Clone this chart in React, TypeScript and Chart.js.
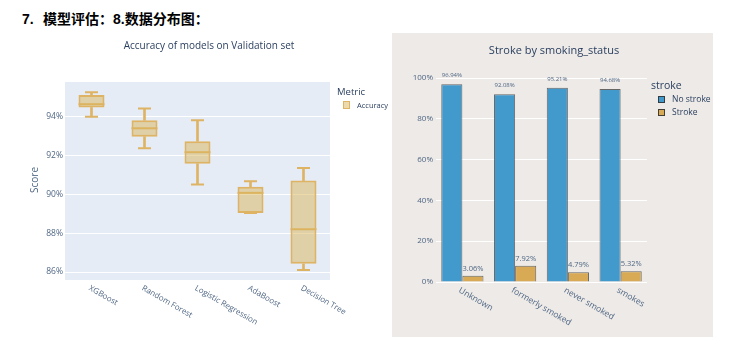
import React, { useEffect, useRef } from 'react';
import { Chart, registerables } from 'chart.js';
Chart.register(...registerables);
Chart.defaults.font.family = '"Open Sans", sans-serif';

// ---- Left chart: accuracy box plot ----
const models = ['XGBoost', 'Random Forest', 'Logistic Regression', 'AdaBoost', 'Decision Tree'];
const accMin = [93.98, 92.37, 90.5, 89.04, 86.1];
const accQ1 = [94.46, 92.96, 91.57, 89.04, 86.42];
const accMedian = [94.63, 93.39, 92.16, 90.07, 88.2];
const accQ3 = [95.1, 93.8, 92.72, 90.38, 90.7];
const accMax = [95.24, 94.41, 93.8, 90.67, 91.35];
const scoreTicks = [86, 88, 90, 92, 94];
const scoreRange = [85.59, 95.77];

// ---- Right chart: stroke by smoking status ----
const smokingStatus = ['Unknown', 'formerly smoked', 'never smoked', 'smokes'];
const noStrokePct = [96.94, 92.08, 95.21, 94.68];
const strokePct = [3.06, 7.92, 4.79, 5.32];
const pctTicks = [0, 20, 40, 60, 80, 100];
const pctRange = [0, 102];

const BOX_LINE = 'rgb(222,180,100)';
const BOX_FILL = 'rgba(217,180,90,0.5)';
const BLUE = 'rgb(66,153,204)';
const ORANGE = 'rgb(217,170,85)';
const TICK = '#506784';
const TITLE = '#2a3f5f';

const plotBg = (color: string) => ({
  id: 'plotBg',
  beforeDraw(chart: any) {
    const { ctx, chartArea: a } = chart;
    ctx.save();
    ctx.fillStyle = color;
    ctx.fillRect(a.left, a.top, a.right - a.left, a.bottom - a.top);
    ctx.restore();
  },
});

const rotatedXLabels = (labels: string[], size: number, dx: number, dy: number) => ({
  id: 'rotatedXLabels',
  afterDraw(chart: any) {
    const { ctx } = chart;
    const x = chart.scales.x;
    ctx.save();
    ctx.font = `${size}px "Open Sans"`;
    ctx.fillStyle = TICK;
    ctx.textAlign = 'left';
    ctx.textBaseline = 'top';
    labels.forEach((l, i) => {
      ctx.save();
      ctx.translate(x.getPixelForValue(i) + dx, chart.chartArea.bottom + dy);
      ctx.rotate(Math.PI / 6);
      ctx.fillText(l, 0, 0);
      ctx.restore();
    });
    ctx.restore();
  },
});

const barValueLabels = {
  id: 'barValueLabels',
  afterDatasetsDraw(chart: any) {
    const { ctx } = chart;
    chart.data.datasets.forEach((ds: any, di: number) => {
      const meta = chart.getDatasetMeta(di);
      const size = di === 0 ? 6 : 7.5;
      const off = di === 0 ? 7 : 5;
      ctx.save();
      ctx.font = `${size}px "Open Sans"`;
      ctx.fillStyle = TICK;
      ctx.textAlign = 'center';
      ctx.textBaseline = 'alphabetic';
      meta.data.forEach((el: any, i: number) => {
        ctx.fillText(Number(ds.data[i]).toFixed(2) + '%', el.x, el.y - off);
      });
      ctx.restore();
    });
  },
};

const linePoint = (label: string, data: number[], radius: number) => ({
  type: 'line' as const,
  label,
  data,
  showLine: false,
  pointStyle: 'line',
  pointRadius: radius,
  pointHoverRadius: radius,
  pointBorderWidth: 2,
  pointBorderColor: BOX_LINE,
  borderColor: BOX_LINE,
  backgroundColor: BOX_LINE,
});

function BoxChart() {
  const ref = useRef<HTMLCanvasElement>(null);
  useEffect(() => {
    const chart = new Chart(ref.current!, {
      type: 'bar',
      data: {
        labels: models,
        datasets: [
          {
            label: 'upper',
            data: models.map((_, i) => [accQ3[i], accMax[i]]),
            backgroundColor: BOX_LINE,
            barThickness: 2,
            grouped: false,
            borderWidth: 0,
          } as any,
          {
            label: 'lower',
            data: models.map((_, i) => [accMin[i], accQ1[i]]),
            backgroundColor: BOX_LINE,
            barThickness: 2,
            grouped: false,
            borderWidth: 0,
          },
          {
            label: 'Accuracy',
            data: models.map((_, i) => [accQ1[i], accQ3[i]]),
            backgroundColor: BOX_FILL,
            borderColor: BOX_LINE,
            borderWidth: 2,
            borderSkipped: false,
            grouped: false,
            categoryPercentage: 1,
            barPercentage: 0.49,
          },
          linePoint('median', accMedian, 13),
          linePoint('max', accMax, 6.5),
          linePoint('min', accMin, 6.5),
        ],
      },
      options: {
        responsive: false,
        animation: false,
        events: [],
        layout: { padding: { left: 0, right: 60, top: 82, bottom: 71 } },
        plugins: { legend: { display: false }, tooltip: { enabled: false } },
        scales: {
          x: {
            ticks: { display: false },
            grid: { display: false },
            border: { display: false },
            afterFit: (s: any) => { s.height = 0; },
          },
          y: {
            min: scoreRange[0],
            max: scoreRange[1],
            afterBuildTicks: (s: any) => { s.ticks = scoreTicks.map((v) => ({ value: v })); },
            ticks: { callback: (v: any) => v + '%', font: { size: 8.5 }, color: TICK, padding: 2 },
            grid: { color: '#ffffff', lineWidth: 1, drawTicks: false },
            border: { display: false },
            afterFit: (s: any) => { s.width = 65; },
          },
        },
      } as any,
      plugins: [plotBg('#E5ECF6'), rotatedXLabels(models, 8, 0, 4)],
    });
    return () => chart.destroy();
  }, []);
  return <canvas ref={ref} width={390} height={351} style={{ position: 'absolute', left: 0, top: 0 }} />;
}

function StrokeChart() {
  const ref = useRef<HTMLCanvasElement>(null);
  useEffect(() => {
    const chart = new Chart(ref.current!, {
      type: 'bar',
      data: {
        labels: smokingStatus,
        datasets: [
          {
            label: 'No stroke',
            data: noStrokePct,
            backgroundColor: BLUE,
            borderColor: 'rgba(70,70,70,0.8)',
            borderWidth: 1,
            categoryPercentage: 0.8,
            barPercentage: 1,
          },
          {
            label: 'Stroke',
            data: strokePct,
            backgroundColor: ORANGE,
            borderColor: 'rgba(70,70,70,0.8)',
            borderWidth: 1,
            categoryPercentage: 0.8,
            barPercentage: 1,
          },
        ],
      },
      options: {
        responsive: false,
        animation: false,
        events: [],
        layout: { padding: { left: 0, right: 66, top: 41, bottom: 55 } },
        plugins: { legend: { display: false }, tooltip: { enabled: false } },
        scales: {
          x: {
            ticks: { display: false },
            grid: { display: false },
            border: { display: false },
            afterFit: (s: any) => { s.height = 0; },
          },
          y: {
            min: pctRange[0],
            max: pctRange[1],
            afterBuildTicks: (s: any) => { s.ticks = pctTicks.map((v) => ({ value: v })); },
            ticks: { callback: (v: any) => v + '%', font: { size: 8 }, color: TICK, padding: 3 },
            grid: { color: '#ffffff', lineWidth: 1, drawTicks: false },
            border: { display: false },
            afterFit: (s: any) => { s.width = 44; },
          },
        },
      } as any,
      plugins: [barValueLabels, rotatedXLabels(smokingStatus, 8.5, -1, 4)],
    });
    return () => chart.destroy();
  }, []);
  return <canvas ref={ref} width={321} height={304} style={{ position: 'absolute', left: 0, top: 0 }} />;
}

const abs = (left: number, top: number, extra: React.CSSProperties = {}): React.CSSProperties => ({
  position: 'absolute',
  left,
  top,
  whiteSpace: 'nowrap',
  fontFamily: '"Open Sans", sans-serif',
  ...extra,
});

export default function App() {
  return (
    <div style={{ position: 'fixed', left: 0, top: 0, width: 734, height: 351, background: '#ffffff', overflow: 'hidden' }}>
      <div style={abs(22, 11, { fontFamily: '"Liberation Sans", "Noto Sans CJK SC", sans-serif', fontWeight: 'bold', fontSize: 14, lineHeight: '16px', color: '#000' })}>7.</div>
      <div style={abs(43, 11, { fontFamily: '"Liberation Sans", "Noto Sans CJK SC", sans-serif', fontWeight: 'bold', fontSize: 14, lineHeight: '16px', color: '#000' })}>模型评估：8.数据分布图：</div>

      <BoxChart />
      <div style={abs(209, 39, { transform: 'translateX(-50%)', fontSize: 10, lineHeight: '12px', color: TITLE })}>Accuracy of models on Validation set</div>
      <div style={abs(34, 180, { transform: 'translate(-50%,-50%) rotate(-90deg)', fontSize: 10, lineHeight: '12px', color: TICK })}>Score</div>
      <div style={abs(337, 86, { fontSize: 9.5, lineHeight: '12px', color: TITLE })}>Metric</div>
      <div style={abs(343, 101, { width: 5, height: 6, border: `1.5px solid ${BOX_LINE}`, background: BOX_FILL })} />
      <div style={abs(357, 99, { fontSize: 7.5, lineHeight: '12px', color: TITLE })}>Accuracy</div>

      <div style={{ position: 'absolute', left: 392, top: 33, width: 321, height: 304, background: '#EDEAE7' }}>
        <StrokeChart />
      </div>
      <div style={abs(554, 43, { transform: 'translateX(-50%)', fontSize: 11, lineHeight: '14px', color: TITLE })}>Stroke by smoking_status</div>
      <div style={abs(651, 78, { fontSize: 10.5, lineHeight: '14px', color: TITLE })}>stroke</div>
      <div style={abs(658, 96, { width: 5, height: 5, border: '1px solid rgba(50,50,50,0.9)', background: BLUE })} />
      <div style={abs(672, 93, { fontSize: 8.5, lineHeight: '12px', color: TITLE })}>No stroke</div>
      <div style={abs(658, 109, { width: 5, height: 5, border: '1px solid rgba(50,50,50,0.9)', background: ORANGE })} />
      <div style={abs(672, 106, { fontSize: 8.5, lineHeight: '12px', color: TITLE })}>Stroke</div>
    </div>
  );
}
